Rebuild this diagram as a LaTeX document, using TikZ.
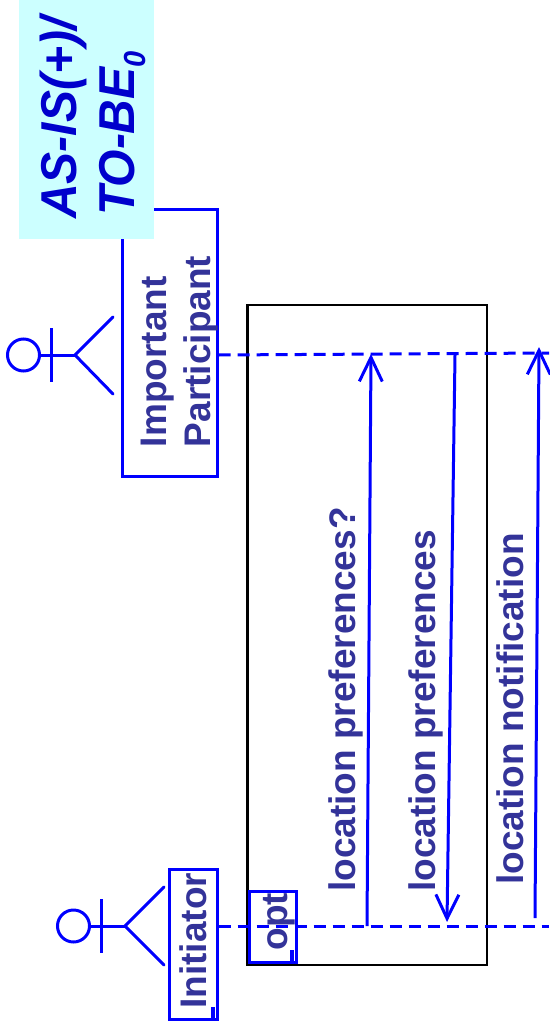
\documentclass[tikz,border=0pt]{standalone}
\usepackage{fontspec}
\setmainfont{Liberation Sans}
\usetikzlibrary{arrows.meta}
\definecolor{lineblue}{HTML}{0000FF}
\definecolor{labelblue}{HTML}{333399}
\definecolor{titleblue}{HTML}{0000CC}
\definecolor{notecyan}{HTML}{CCFFFF}
\newcommand{\tallen}[1]{\scalebox{1}[1.05]{#1}}
\tikzset{
  wire/.style={draw=lineblue,line width=3pt},
  lifeline/.style={wire,dash pattern=on 12pt off 7pt},
  msg/.style={wire,-{Straight Barb[length=24pt,width=23pt,line width=3pt]}},
  actorbox/.style={draw=lineblue,line width=3pt,rectangle,inner sep=0pt,rotate=90,align=left,text=labelblue,font=\fontsize{37}{44}\selectfont\bfseries},
  msglabel/.style={rotate=90,inner sep=0pt,anchor=base west,text=labelblue,font=\fontsize{37}{44}\selectfont\bfseries},
  titletext/.style={rotate=90,inner sep=0pt,anchor=base west,text=titleblue,font=\fontsize{48}{58}\selectfont\bfseries\itshape},
  tick/.style={fill=lineblue,draw=none,rectangle,inner sep=0pt,minimum width=4pt,minimum height=12pt},
  head/.style={draw=lineblue,line width=3pt,circle,inner sep=0pt,minimum size=32pt},
  limb/.style={wire,line cap=round},
}
\begin{document}
\begin{tikzpicture}[x=1pt,y=-1pt]
\useasboundingbox (0,0) rectangle (549,1032);
% frame
\node[draw=black,line width=2.4pt,rectangle,minimum width=239.5pt,minimum height=660.5pt,inner sep=0pt] (frame) at (367.3,635) {};
% boxes
\node[actorbox,minimum width=266.5pt,minimum height=95pt,text width=208pt] (part) at (169.7,343) {\rule{0pt}{37pt}Important\\\smash{Participant}};
\node[actorbox,minimum width=150pt,minimum height=48pt] (init) at (193.2,944.3) {\hspace*{7pt}Initiator};
\node[actorbox,minimum width=71.5pt,minimum height=47.5pt] (optb) at (273,926.8) {\hspace*{10pt}\rule{0pt}{37pt}opt};
\node[tick] (t1) at (213,1013) {};
\node[tick] (t2) at (292,956) {};
% lifelines
\coordinate (pEnd) at (549,353);
\coordinate (iEnd) at (549,926);
\draw[lifeline] (part.south |- 217,355) -- (pEnd);
\draw[lifeline] (init.south |- 217,926) -- (iEnd);
% note
\node[fill=notecyan,rectangle,minimum width=135pt,minimum height=239pt,inner sep=0pt] (note) at (86.5,119.5) {};
\node[titletext] (t1a) at (76,219) {\tallen{AS-IS(+)/}};
\node[titletext] (t1b) at (134,216) {\tallen{TO-BE\raisebox{-11pt}{\fontsize{29}{29}\selectfont 0}}};
% actors
\node[head] (h1) at (23.5,355) {};
\coordinate (hip1) at (75,355);
\coordinate (a1t) at (51,328); \coordinate (a1b) at (51,382);
\coordinate (l1t) at (113,317); \coordinate (l1b) at (113,394);
\draw[wire] (h1) -- (hip1);
\draw[wire] (a1t) -- (a1b);
\draw[limb] (l1t) -- (hip1) -- (l1b);
\node[head] (h2) at (73.5,926) {};
\coordinate (hip2) at (125,926);
\coordinate (a2t) at (101,899); \coordinate (a2b) at (101,953);
\coordinate (l2t) at (164,887); \coordinate (l2b) at (164,965);
\draw[wire] (h2) -- (hip2);
\draw[wire] (a2t) -- (a2b);
\draw[limb] (l2t) -- (hip2) -- (l2b);
% messages
\coordinate (m1a) at (367,926); \coordinate (m1b) at (371,354);
\coordinate (m2a) at (455,355); \coordinate (m2b) at (447,922);
\coordinate (m3a) at (535,918); \coordinate (m3b) at (539,347);
\draw[msg] (m1a) -- (m1b);
\draw[msg] (m2a) -- (m2b);
\draw[msg] (m3a) -- (m3b);
\node[msglabel] (ml1) at (355,892) {location preferences?};
\node[msglabel] (ml2) at (435,892) {location preferences};
\node[msglabel] (ml3) at (523,885) {location notification};
\end{tikzpicture}
\end{document}
